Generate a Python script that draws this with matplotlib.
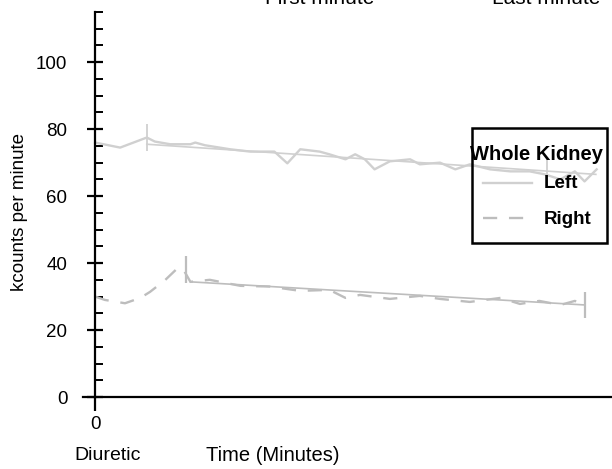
import matplotlib
matplotlib.use('Agg')
import matplotlib.pyplot as plt
import numpy as np
from matplotlib.patches import Rectangle
from matplotlib.lines import Line2D

plt.rcParams['font.family'] = ['Liberation Sans', 'DejaVu Sans']

# Left kidney counts (kcounts/min) vs time (minutes)
left_t = [0, 1.55, 3.2, 3.7, 4.65, 5.9, 6.2, 6.8, 8.35, 9.6, 11.1, 11.9, 12.7,
          13.9, 14.5, 15.5, 16.1, 16.7, 17.3, 18.25, 19.5, 20.1, 21.35, 22.3,
          23.2, 24.45, 25.7, 26.9, 27.85, 28.8, 29.7, 30.3, 31.05]
left_v = [76, 74.5, 77.5, 76.3, 75.5, 75.5, 76, 75.2, 74, 73.3, 73.3, 69.8, 74,
          73.3, 72.5, 71, 72.5, 71, 68, 70.4, 71, 69.5, 70, 68,
          69.5, 68, 67.4, 67.4, 66.5, 65, 67.4, 64.4, 68]

# Right kidney counts
right_t = [0, 0.6, 1.85, 2.8, 3.4, 4.35, 5.0, 5.4, 5.9, 7.1, 9.0, 10.8, 12.7,
           14.5, 15.5, 16.4, 18.25, 20.1, 21.35, 23.2, 25.1, 26.3, 27.5, 28.8,
           29.7, 30.3]
right_v = [30, 29, 28, 29.6, 31.4, 35, 38, 38.6, 34.4, 35, 33.2, 33, 31.7,
           32, 29.6, 30.5, 29.3, 30.2, 29.3, 28.4, 29.6, 27.8, 28.7, 27.5,
           28.7, 27.5]

# trend lines (first minute -> last minute)
left_fit_t = [3.2, 31.0]
left_fit_v = [75.5, 66.5]
right_fit_t = [5.9, 30.3]
right_fit_v = [34.4, 27.5]

# error bars
left_err_t = [3.2, 28.0]
left_err_v = [77.5, 68.5]
left_err = [4.0, 2.5]
right_err_t = [5.6, 30.3]
right_err_v = [38.0, 27.5]
right_err = [4.0, 4.0]

W, H = 612, 469
fig = plt.figure(figsize=(6.12, 4.69), dpi=100)
ax = fig.add_axes([83 / W, 1 - 397 / H, 1 - 83 / W, (397 - 12) / H])

c_left = '#d0d0d0'
c_right = '#bdbdbd'

ax.plot(left_fit_t, left_fit_v, color=c_left, lw=1.2)
ax.plot(left_t, left_v, color=c_left, lw=1.7)
ax.errorbar(left_err_t, left_err_v, yerr=left_err, fmt='none', ecolor=c_left, elinewidth=1.3)

ax.plot(right_fit_t, right_fit_v, color=c_right, lw=1.2)
ax.plot(right_t, right_v, color=c_right, lw=1.7, dashes=(6, 5))
ax.errorbar(right_err_t, right_err_v, yerr=right_err, fmt='none', ecolor=c_right, elinewidth=1.6)

ax.set_xlim(-0.75, 32)
ax.set_ylim(0, 115)

ax.spines['top'].set_visible(False)
ax.spines['right'].set_visible(False)
ax.spines['left'].set_position(('data', 0))
ax.spines['left'].set_linewidth(1.6)
ax.spines['bottom'].set_linewidth(1.6)

ax.set_yticks([0, 20, 40, 60, 80, 100])
ax.set_yticks(np.arange(0, 116, 5), minor=True)
ax.set_xticks([0])
ax.tick_params(axis='y', which='major', direction='inout', length=12, width=1.6,
               labelsize=13.5, pad=14)
ax.tick_params(axis='y', which='minor', direction='in', length=6, width=1.4)
ax.tick_params(axis='x', which='major', direction='out', length=10, width=1.6,
               labelsize=13.5, pad=4)

fig.text(20 / W, 1 - 212 / H, 'kcounts per minute', rotation=90, ha='center',
         va='center', fontsize=13.5)
fig.text(74 / W, 1 - 455 / H, 'Diuretic', ha='left', va='center', fontsize=14)
fig.text(206 / W, 1 - 455 / H, 'Time (Minutes)', ha='left', va='center', fontsize=14.5)
fig.text(320 / W, 1 - (-1) / H, 'First minute', ha='center', va='center', fontsize=15)
fig.text(546 / W, 1 - (-1) / H, 'Last minute', ha='center', va='center', fontsize=15)

# legend box
fig.patches.append(Rectangle((472 / W, 1 - 243 / H), 135 / W, 115 / H,
                             transform=fig.transFigure, fill=False,
                             edgecolor='black', lw=1.8))
fig.text(470 / W, 1 - 155 / H, 'Whole Kidney', ha='left', va='center',
         fontsize=14.5, fontweight='bold')
fig.lines.append(Line2D([483 / W, 532 / W], [1 - 183 / H] * 2,
                        transform=fig.transFigure, color=c_left, lw=1.7))
fig.lines.append(Line2D([483 / W, 532 / W], [1 - 218 / H] * 2,
                        transform=fig.transFigure, color=c_right, lw=1.7,
                        dashes=(6, 5)))
fig.text(544 / W, 1 - 184 / H, 'Left', ha='left', va='center', fontsize=13.5, fontweight='bold')
fig.text(544 / W, 1 - 219 / H, 'Right', ha='left', va='center', fontsize=13.5, fontweight='bold')

fig.savefig('out.png', dpi=100)
